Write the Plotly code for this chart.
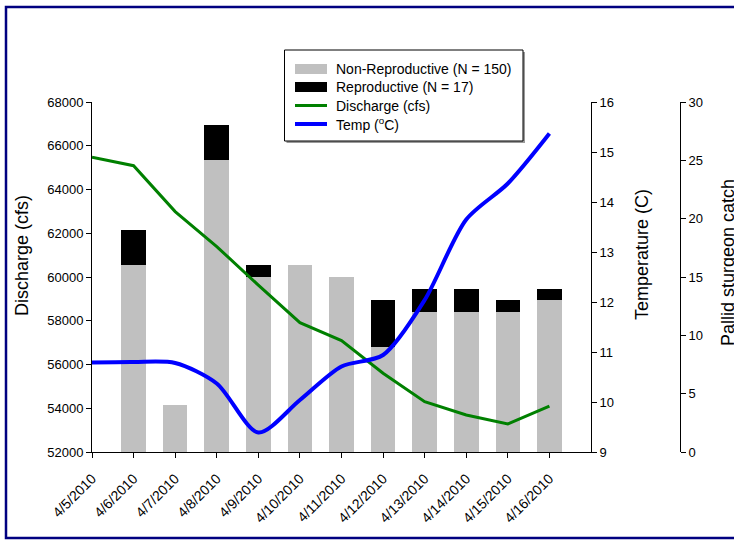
import plotly.graph_objects as go

# ---- data ----
dates = ["4/5/2010", "4/6/2010", "4/7/2010", "4/8/2010", "4/9/2010", "4/10/2010",
         "4/11/2010", "4/12/2010", "4/13/2010", "4/14/2010", "4/15/2010", "4/16/2010"]
non_repro = [None, 16, 4, 25, 15, 16, 15, 9, 12, 12, 12, 13]
repro = [None, 3, 0, 3, 1, 0, 0, 4, 2, 2, 1, 1]
discharge = [65470, 65090, 62990, 61390, 59630, 57910, 57090, 55600, 54300, 53690, 53280, 54100]
temp = [10.79, 10.80, 10.78, 10.37, 9.39, 10.04, 10.71, 10.94, 12.04, 13.65, 14.37, 15.37]

legend_labels = ["Non-Reproductive (N = 150)", "Reproductive (N = 17)",
                 "Discharge (cfs)", "Temp (<sup>o</sup>C)"]

W, H = 734, 540
ML, MR, MT, MB = 92, 20, 102, 88
PW, PH = W - ML - MR, H - MT - MB


def px(x):
    return (x - ML) / PW


def py(y):
    return (H - MB - y) / PH


FONT = "Liberation Sans, Arial, sans-serif"
GRAY = "#c0c0c0"
GREEN = "#008000"
BLUE = "#0000ff"

fig = go.Figure()
fig.add_trace(go.Bar(x=dates, y=non_repro, marker=dict(color=GRAY, line=dict(width=0)),
                     width=0.59, yaxis="y", name="Non-Reproductive", showlegend=False))
fig.add_trace(go.Bar(x=dates, y=repro, marker=dict(color="#000000", line=dict(width=0)),
                     width=0.59, yaxis="y", name="Reproductive", showlegend=False))
fig.add_trace(go.Scatter(x=dates, y=discharge, mode="lines", yaxis="y2",
                         line=dict(color=GREEN, width=3), name="Discharge", showlegend=False))
fig.add_trace(go.Scatter(x=dates, y=temp, mode="lines", yaxis="y3",
                         line=dict(color=BLUE, width=4, shape="spline", smoothing=0.8),
                         name="Temp", showlegend=False))

axis_common = dict(showgrid=False, zeroline=False, showline=True, linecolor="black", linewidth=1,
                   ticks="outside", ticklen=5, tickcolor="black", tickwidth=1,
                   tickfont=dict(family=FONT, size=13, color="black"))

fig.update_layout(
    width=W, height=H,
    margin=dict(l=ML, r=MR, t=MT, b=MB, autoexpand=False),
    paper_bgcolor="white", plot_bgcolor="white",
    barmode="stack", bargap=0.41,
    font=dict(family=FONT, size=13, color="black"),
    xaxis=dict(domain=[0, px(591)], type="category", range=[0, 12], tickangle=-45,
               anchor="y2", ticklabelstandoff=7,
               **{**axis_common, "tickfont": dict(family=FONT, size=14, color="black")}),
    yaxis=dict(range=[0, 30], dtick=5, side="right", anchor="free", position=px(680),
               **axis_common),
    yaxis2=dict(range=[52000, 68000], dtick=2000, side="left", overlaying="y", anchor="x",
                tickformat="d", **axis_common),
    yaxis3=dict(range=[9, 16], dtick=1, side="right", overlaying="y", anchor="x",
                **axis_common),
)

# axis titles
titles = [("Discharge (cfs)", 22, 256), ("Temperature (C)", 642, 255),
          ("Pallid sturgeon catch", 728, 263)]
for t, x, y in titles:
    fig.add_annotation(text=t, xref="paper", yref="paper", x=px(x), y=py(y),
                       textangle=-90, showarrow=False, xanchor="center", yanchor="middle",
                       font=dict(family=FONT, size=18, color="black"))

shapes = []
# outer frame
shapes.append(dict(type="rect", xref="paper", yref="paper", x0=px(6), x1=px(760),
                   y0=py(538), y1=py(7), line=dict(color="#000080", width=2.5),
                   fillcolor="rgba(0,0,0,0)", layer="below"))
# legend box shadow + box
shapes.append(dict(type="rect", xref="paper", yref="paper", x0=px(286.5), x1=px(525),
                   y0=py(143), y1=py(52), line=dict(width=0), fillcolor="#9a9a9a"))
shapes.append(dict(type="rect", xref="paper", yref="paper", x0=px(284.5), x1=px(523),
                   y0=py(141), y1=py(50), line=dict(color="black", width=1), fillcolor="white"))
rows = [69, 87, 105.5, 124]
shapes.append(dict(type="rect", xref="paper", yref="paper", x0=px(295), x1=px(327),
                   y0=py(rows[0] + 5), y1=py(rows[0] - 5), line=dict(width=0), fillcolor=GRAY))
shapes.append(dict(type="rect", xref="paper", yref="paper", x0=px(295), x1=px(327),
                   y0=py(rows[1] + 5), y1=py(rows[1] - 5), line=dict(width=0), fillcolor="black"))
shapes.append(dict(type="line", xref="paper", yref="paper", x0=px(295), x1=px(327),
                   y0=py(rows[2]), y1=py(rows[2]), line=dict(color=GREEN, width=3)))
shapes.append(dict(type="line", xref="paper", yref="paper", x0=px(295), x1=px(327),
                   y0=py(rows[3]), y1=py(rows[3]), line=dict(color=BLUE, width=4)))
fig.update_layout(shapes=shapes)

for lab, r in zip(legend_labels, rows):
    fig.add_annotation(text=lab, xref="paper", yref="paper", x=px(334), y=py(r),
                       xanchor="left", yanchor="middle", showarrow=False,
                       font=dict(family=FONT, size=14, color="black"))

fig.write_html("out.html")
